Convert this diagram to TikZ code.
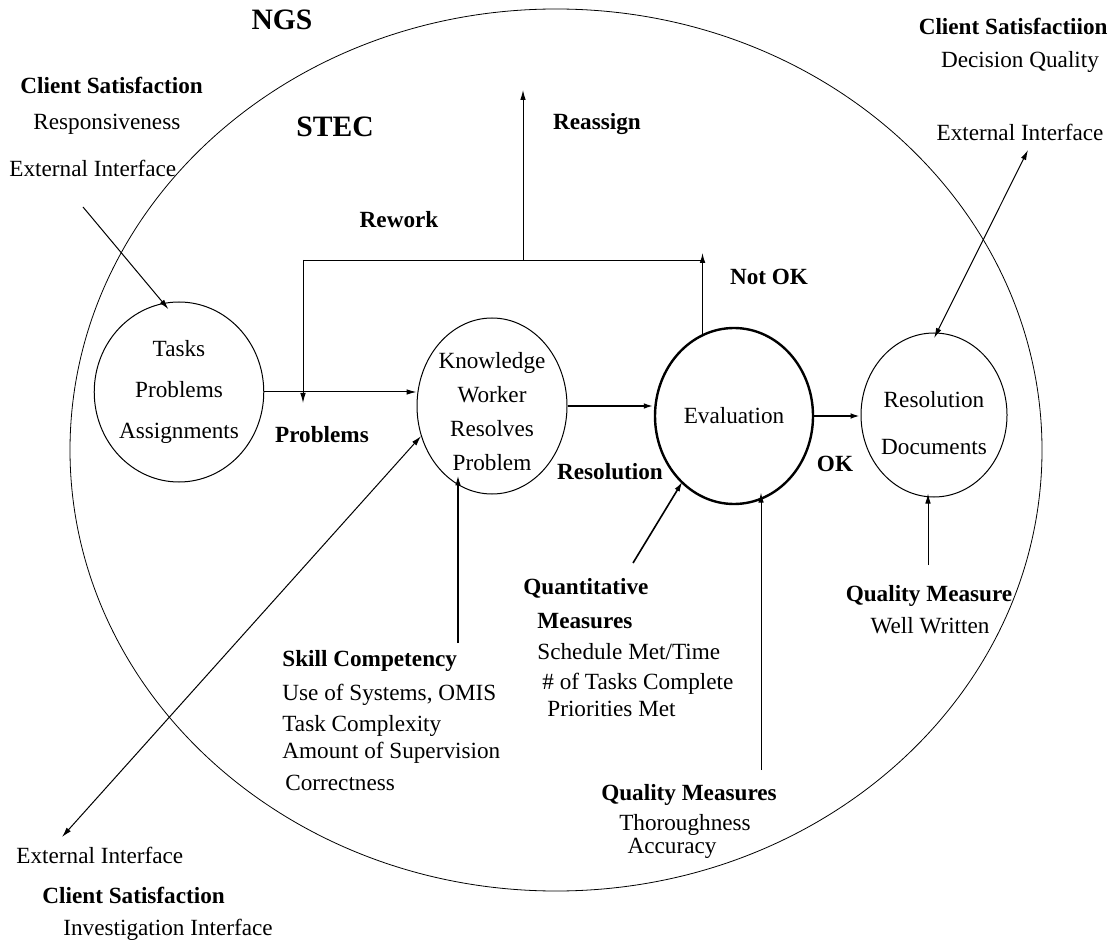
\documentclass[tikz,border=0pt]{standalone}
\usepackage{fontspec}
\setmainfont{Liberation Serif}
\usetikzlibrary{shapes.geometric,arrows.meta}
\tikzset{
  proc/.style={draw,ellipse,inner sep=0pt,align=center,line width=0.5pt},
  hd/.style={inner sep=0pt,font=\fontsize{11.6}{14}\selectfont\bfseries},
  ln/.style={inner sep=0pt,font=\fontsize{11.6}{14}\selectfont},
  big/.style={inner sep=0pt,font=\fontsize{14.8}{17}\selectfont\bfseries},
  flow/.style={-{Latex[length=5pt,width=2.8pt]},line width=0.5pt},
  both/.style={{Latex[length=5pt,width=2.8pt]}-{Latex[length=5pt,width=2.8pt]},line width=0.5pt},
}
\begin{document}
\begin{tikzpicture}[x=0.5pt,y=-0.5pt]
\useasboundingbox (0,0) rectangle (1112,940);
% outer boundary
\node[draw,ellipse,inner sep=0pt,minimum width=486pt,minimum height=441pt,line width=0.4pt] (ngs) at (556,450) {};
\node[big,anchor=base] (ngsLbl) at (282,30) {NGS};
\node[big,anchor=base] (stecLbl) at (335,137) {STEC};
% processes
\node[proc,minimum width=82pt,minimum height=90pt,font=\fontsize{11.6}{20.5}\selectfont] (tasks) at (179,392) {Tasks\\Problems\\Assignments};
\node[proc,minimum width=75pt,minimum height=88pt] (knowledge) at (492,406) {};
\node[ln,align=center,font=\fontsize{11.6}{17}\selectfont] (knowledgeTxt) at (492,412) {Knowledge\\Worker\\Resolves\\Problem};
\node[proc,minimum width=79pt,minimum height=88pt,line width=1.2pt,font=\fontsize{11.6}{14}\selectfont] (evaluation) at (734,416) {Evaluation};
\node[proc,minimum width=73pt,minimum height=82pt] (docs) at (934,415) {};
\node[ln,align=center,font=\fontsize{11.6}{23.5}\selectfont] (docsTxt) at (934,423) {Resolution\\Documents};
% main flow
\draw[flow] (tasks.east) -- (tasks.east -| knowledge.west);
\draw[flow,line width=1pt] (knowledge.east) -- (knowledge.east -| evaluation.west);
\draw[flow,line width=1pt] (evaluation.east) -- (evaluation.east -| docs.west);
% rework / reassign loop
\coordinate (rwL) at (303,260);
\coordinate (rwR) at (703,260);
\coordinate (rsTop) at (523,90);
\coordinate (rwEnd) at (303,403);
\coordinate (noTop) at (703,253);
\draw[flow] (evaluation.111) -- (evaluation.111 |- noTop);
\draw (rwL) -- (rwR);
\draw[flow] (rwL -| rsTop) -- (rsTop);
\draw[flow] (rwL) -- (rwEnd);
% external interfaces
\coordinate (extTL) at (83,207);
\coordinate (extTR) at (1028,150);
\coordinate (extBL) at (62,837);
\draw[flow,shorten >=-4pt] (extTL) -- (tasks.100);
\draw[both,shorten <=-3pt] (docs.88) -- (extTR);
\draw[both] (knowledge.203) -- (extBL);
% measures
\coordinate (skillTop) at (458,643);
\coordinate (quantTop) at (633,563);
\coordinate (qmTop) at (761,770);
\coordinate (qrTop) at (928,565);
\draw[flow,line width=0.8pt,shorten >=-6pt] (skillTop) -- (skillTop |- knowledge.250);
\draw[flow,line width=0.8pt,shorten >=-1pt] (quantTop) -- (evaluation.232);
\draw[flow,shorten >=-3pt] (qmTop) -- (qmTop |- evaluation.290);
\draw[flow,shorten >=-2pt] (qrTop) -- (qrTop |- docs.south);
% flow labels
\node[hd,anchor=base] (reassignLbl) at (597,130) {Reassign};
\node[hd,anchor=base] (reworkLbl) at (399,228) {Rework};
\node[hd,anchor=base] (notokLbl) at (769,285) {Not OK};
\node[hd,anchor=base] (problemsLbl) at (322,443) {Problems};
\node[hd,anchor=base] (resolutionLbl) at (610,480) {Resolution};
\node[hd,anchor=base] (okLbl) at (835,472) {OK};
% client satisfaction, top left
\node[hd,anchor=base west] (csTL) at (20,94) {Client Satisfaction};
\node[ln,anchor=base west] (respTL) at (33,130) {Responsiveness};
\node[ln,anchor=base west] (extTLLbl) at (9,177) {External Interface};
% client satisfaction, top right
\node[hd,anchor=base east] (csTR) at (1108,35) {Client Satisfactiion};
\node[ln,anchor=base] (decTR) at (1020,68) {Decision Quality};
\node[ln,anchor=base] (extTRLbl) at (1020,141) {External Interface};
% client satisfaction, bottom left
\node[ln,anchor=base west] (extBLLbl) at (16,863) {External Interface};
\node[hd,anchor=base west] (csBL) at (42,903) {Client Satisfaction};
\node[ln,anchor=base west] (invBL) at (63,935) {Investigation Interface};
% skill competency
\node[hd,anchor=base west] (skill) at (282,666) {Skill Competency};
\node[ln,anchor=base west] (skill1) at (282,700) {Use of Systems, OMIS};
\node[ln,anchor=base west] (skill2) at (282,731) {Task Complexity};
\node[ln,anchor=base west] (skill3) at (282,758) {Amount of Supervision};
\node[ln,anchor=base west] (skill4) at (285,790) {Correctness};
% quantitative measures
\node[hd,anchor=base west] (quant) at (523,594) {Quantitative};
\node[hd,anchor=base west] (quantB) at (537,628) {Measures};
\node[ln,anchor=base west] (quant1) at (537,659) {Schedule Met/Time};
\node[ln,anchor=base west] (quant2) at (542,689) {\# of Tasks Complete};
\node[ln,anchor=base west] (quant3) at (547,716) {Priorities Met};
% quality measures
\node[hd,anchor=base] (qm) at (689,800) {Quality Measures};
\node[ln,anchor=base] (qm1) at (685,830) {Thoroughness};
\node[ln,anchor=base] (qm2) at (672,853) {Accuracy};
\node[hd,anchor=base] (qr) at (929,601) {Quality Measure};
\node[ln,anchor=base] (qr1) at (930,633) {Well Written};
\end{tikzpicture}
\end{document}
